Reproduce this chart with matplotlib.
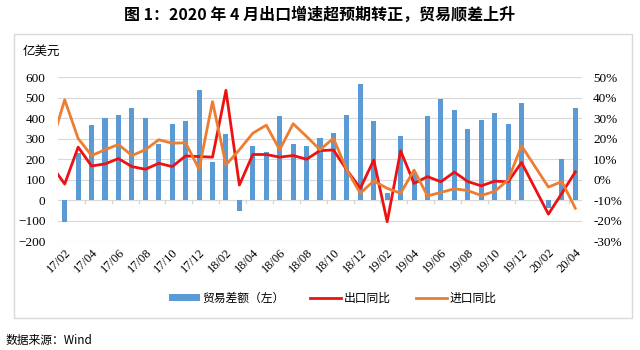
import numpy as np
import matplotlib
matplotlib.use('Agg')
import matplotlib.pyplot as plt
from matplotlib.patches import Rectangle
from matplotlib.ticker import FuncFormatter

plt.rcParams['font.family'] = ['Noto Sans CJK SC', 'DejaVu Sans']

# months 17/01 .. 20/04 (17/01 only feeds the clipped line start, 20/01 merged into 20/02)
months = ['17/01', '17/02', '17/03', '17/04', '17/05', '17/06', '17/07', '17/08', '17/09', '17/10',
          '17/11', '17/12', '18/01', '18/02', '18/03', '18/04', '18/05', '18/06', '18/07', '18/08',
          '18/09', '18/10', '18/11', '18/12', '19/01', '19/02', '19/03', '19/04', '19/05', '19/06',
          '19/07', '19/08', '19/09', '19/10', '19/11', '19/12', '20/01', '20/02', '20/03', '20/04']
nan = np.nan
trade_balance = [nan, -105, 230, 365, 400, 413, 449, 400, 274, 370,
                 385, 538, 184, 323, -55, 261, 233, 411, 274, 264,
                 302, 328, 417, 565, 383, 32, 312, 135, 409, 493,
                 438, 346, 390, 422, 372, 471, nan, -40, 200, 451]
export_yoy = [7.0, -2.2, 15.8, 6.6, 7.6, 10.2, 6.3, 5.0, 7.9, 6.3,
              11.5, 11.2, 10.9, 43.5, -2.7, 12.2, 12.2, 10.9, 11.7, 9.9,
              14.1, 14.4, 4.6, -4.3, 9.5, -20.6, 14.0, -1.9, 1.4, -1.1,
              3.6, -1.0, -3.1, -0.8, -1.1, 8.3, nan, -16.9, -6.7, 3.7]
import_yoy = [17.0, 38.9, 20.0, 11.7, 14.5, 17.1, 11.7, 14.5, 19.4, 17.7,
              17.9, 5.0, 38.0, 7.1, 14.5, 22.6, 26.5, 14.5, 27.2, 21.0,
              14.5, 20.1, 4.6, -6.7, -0.7, -4.3, -6.7, 4.6, -8.0, -6.3,
              -4.5, -5.4, -7.8, -5.8, -0.2, 16.4, nan, -3.7, -1.0, -14.0]

x = np.arange(len(months))
bal = np.array(trade_balance, dtype=float)
exp_ = np.array(export_yoy, dtype=float)
imp_ = np.array(import_yoy, dtype=float)

fig = plt.figure(figsize=(6.4, 3.5), dpi=100)
ax = fig.add_axes([0.0906, 0.3114, 0.8188, 0.4686])
ax2 = ax.twinx()

# outer frame and title
fig.patches.append(Rectangle((14 / 640, 1 - 318 / 350), 618 / 640, 284 / 350,
                             transform=fig.transFigure, fill=False,
                             edgecolor='#d9d9d9', linewidth=1.0))
fig.text(0.5, 1 - 15 / 350, '图 1：2020 年 4 月出口增速超预期转正，贸易顺差上升',
         ha='center', va='center', fontsize=11.5, fontweight='bold')
fig.text(23 / 640, 1 - 51 / 350, '亿美元', ha='left', va='center', fontsize=9)
fig.text(6 / 640, 1 - 340 / 350, '数据来源：Wind', ha='left', va='center', fontsize=8.5)

ok = ~np.isnan(bal)
bars = ax.bar(x[ok], bal[ok], width=0.38, color='#5b9bd5', zorder=2, label='贸易差额（左）')

m = ~np.isnan(exp_)
l1, = ax2.plot(x[m], exp_[m], color='#ee1111', lw=2.0, zorder=3, label='出口同比')
m = ~np.isnan(imp_)
l2, = ax2.plot(x[m], imp_[m], color='#ed7d31', lw=2.0, zorder=3, label='进口同比')

ax.set_xlim(0.5, len(months) - 0.5)
ax.set_ylim(-200, 600)
ax.set_yticks(np.arange(-200, 601, 100))
ax2.set_ylim(-30, 50)
ax2.set_yticks(np.arange(-30, 51, 10))
ax2.yaxis.set_major_formatter(FuncFormatter(lambda v, p: '%d%%' % v))

ax.grid(axis='y', color='#d9d9d9', lw=0.8, zorder=0)
ax.axhline(0, color='#d0d0d0', lw=0.8, zorder=1)
# small category tick marks on the zero line
for b in np.arange(2.5, len(months) - 0.5, 2):
    ax.plot([b, b], [0, -14], color='#d0d0d0', lw=0.8, zorder=1)

tick_pos = x[1::2]
ax.set_xticks(tick_pos)
ax.set_xticklabels([months[i] for i in tick_pos], rotation=45, ha='right',
                   rotation_mode='anchor')
for a in (ax, ax2):
    for s in a.spines.values():
        s.set_visible(False)
    a.tick_params(length=0, labelfontfamily='Liberation Serif', labelsize=9.5)
ax.tick_params(axis='x', pad=4, labelsize=9)
ax.tick_params(axis='y', pad=9)
ax2.tick_params(axis='y', pad=8)

fig.legend([bars, l1, l2], ['贸易差额（左）', '出口同比', '进口同比'],
           loc='center', bbox_to_anchor=(0.52, 1 - 298 / 350), ncol=3, frameon=False,
           fontsize=8.5, handlelength=2.6, handletextpad=0.2, columnspacing=2.2,
           handleheight=0.5)

fig.savefig('out.png', dpi=100)
